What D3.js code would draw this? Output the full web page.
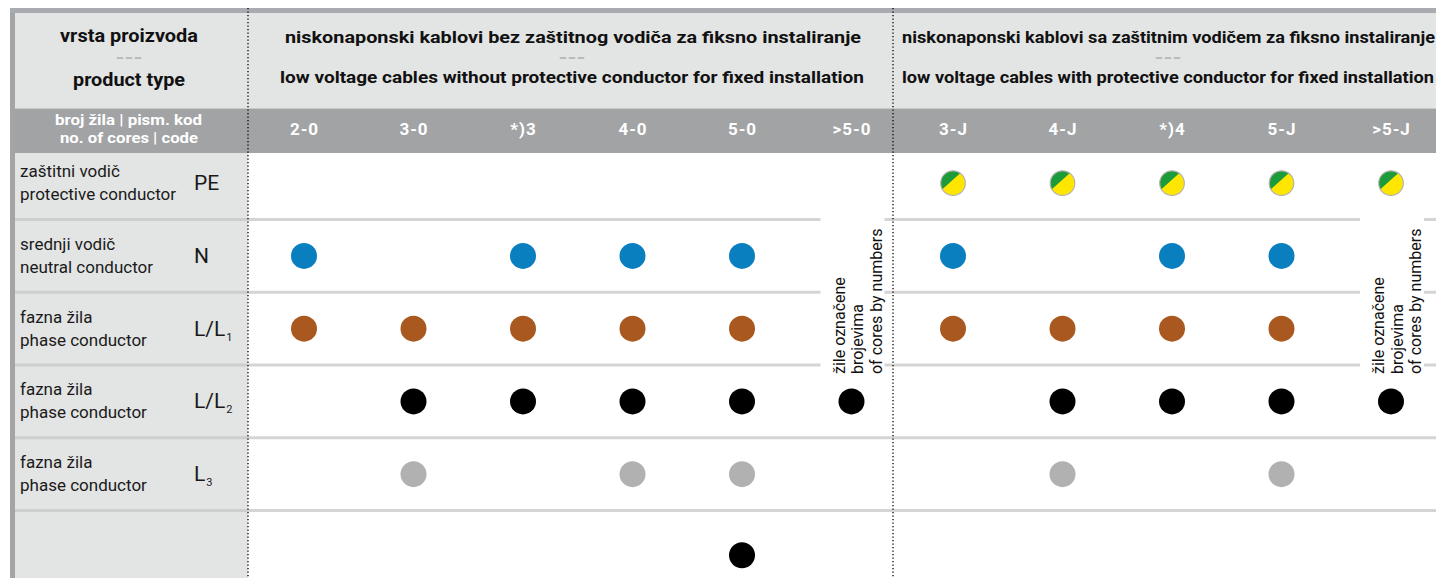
<!DOCTYPE html>
<html><head><meta charset="utf-8">
<script src="https://cdn.jsdelivr.net/npm/d3@7"></script>
<style>body{margin:0;background:#fff;overflow:hidden}svg{display:block}text{font-family:Roboto,"Open Sans",sans-serif}</style>
</head><body><svg id="c" width="1436" height="578"></svg>
<script>
// ---------- data ----------
const headerHR = "vrsta proizvoda";
const headerEN = "product type";
const codeHeaderHR = "broj žila | pism. kod";
const codeHeaderEN = "no. of cores | code";
const groupTitlesHR = ["niskonaponski kablovi bez zaštitnog vodiča za fiksno instaliranje",
                       "niskonaponski kablovi sa zaštitnim vodičem za fiksno instaliranje"];
const groupTitlesEN = ["low voltage cables without protective conductor for fixed installation",
                       "low voltage cables with protective conductor for fixed installation"];
const groupCodesA = ["2-0","3-0","*)3","4-0","5-0",">5-0"];
const groupCodesB = ["3-J","4-J","*)4","5-J",">5-J"];
const rowKeys = ["PE","N","L1","L2","L3","X"];
const rowLabelHR = ["zaštitni vodič","srednji vodič","fazna žila","fazna žila","fazna žila",""];
const rowLabelEN = ["protective conductor","neutral conductor","phase conductor","phase conductor","phase conductor",""];
const rowSymbol = ["PE","N","L/L","L/L","L",""];
const rowSymbolSub = ["","","1","2","3",""];
const rowColor = ["pe","#0a7fc0","#a9591f","#000000","#b1b1b1","#000000"];
const coresPE = ["3-J","4-J","*)4","5-J",">5-J"];
const coresN  = ["2-0","*)3","4-0","5-0","3-J","*)4","5-J"];
const coresL1 = ["2-0","3-0","*)3","4-0","5-0","3-J","4-J","*)4","5-J"];
const coresL2 = ["3-0","*)3","4-0","5-0",">5-0","4-J","*)4","5-J",">5-J"];
const coresL3 = ["3-0","4-0","5-0","4-J","5-J"];
const coresX  = ["5-0"];
const rowCores = [coresPE, coresN, coresL1, coresL2, coresL3, coresX];
const numberedCodes = [">5-0", ">5-J"];
const numberedNote = ["žile označene","brojevima","of cores by numbers"];

// ---------- layout ----------
const W = 1436, H = 578;
const svg = d3.select("#c");
const xA = d3.scalePoint().domain(groupCodesA).range([304, 851.5]);
const xB = d3.scalePoint().domain(groupCodesB).range([953, 1391]);
const xCol = c => groupCodesA.includes(c) ? xA(c) : xB(c);
const yB = d3.scaleBand().domain(rowKeys.slice(0,5)).range([146.75, 510.5]);
const lastKey = rowKeys[rowKeys.length-1];
const rowTop = k => k === lastKey ? 510.5 : yB(k);
const rowBot = k => k === lastKey ? 600 : yB(k) + yB.bandwidth();
const rowMid = k => (rowTop(k) + rowBot(k)) / 2;
const divX = [248, 893];
const noteBottom = rowBot("L1") + 9;

// backgrounds
svg.append("rect").attr("x",10).attr("y",8).attr("width",W-10).attr("height",5).attr("fill","#a8acb1");
svg.append("rect").attr("x",10).attr("y",13).attr("width",W-10).attr("height",95).attr("fill","#e3e4e4");
svg.append("rect").attr("x",10).attr("y",108).attr("width",W-10).attr("height",1).attr("fill","#c9cacb");
svg.append("rect").attr("x",10).attr("y",109).attr("width",W-10).attr("height",44).attr("fill","#a2a3a5");
svg.append("rect").attr("x",10).attr("y",153).attr("width",divX[0]-10).attr("height",H-153).attr("fill","#e3e4e4");
svg.append("rect").attr("x",10).attr("y",13).attr("width",5).attr("height",H-13).attr("fill","#a4a5a7");

// separators
rowKeys.slice(0,5).forEach(k => {
  const y = rowBot(k);
  svg.append("line").attr("x1",15).attr("x2",divX[0]).attr("y1",y).attr("y2",y)
     .attr("stroke","#cdcecf").attr("stroke-width",3);
  let segs = [[divX[0], W]];
  if (y < noteBottom) {
    numberedCodes.forEach(c => {
      const g0 = xCol(c) - 31, g1 = xCol(c) + 33;
      segs = segs.flatMap(([a,b]) => (g1 <= a || g0 >= b) ? [[a,b]] : [[a,g0],[g1,b]].filter(s=>s[1]>s[0]));
    });
  }
  segs.forEach(([a,b]) => svg.append("line").attr("x1",a).attr("x2",b).attr("y1",y).attr("y2",y)
     .attr("stroke","#d5d5d5").attr("stroke-width",3));
});

// dotted dividers
divX.forEach(x => svg.append("line").attr("x1",x).attr("x2",x).attr("y1",8).attr("y2",H)
  .attr("stroke","#000").attr("stroke-width",1.3).attr("stroke-dasharray","1.3,2.2"));

// header texts
const T = (x,y,txt,o) => {
  const t = svg.append("text").attr("x",x).attr("y",y).text(txt)
    .attr("font-size",o.size).attr("font-weight",o.weight||400).attr("fill",o.fill||"#111")
    .attr("text-anchor",o.anchor||"middle");
  if (o.len) t.attr("textLength",o.len).attr("lengthAdjust","spacingAndGlyphs");
  if (o.ls) t.attr("letter-spacing",o.ls);
  return t;
};
T(129,42,headerHR,{size:18,weight:700,len:138});
T(129,63,"---",{size:16,weight:700,fill:"#b8b8b8",len:27});
T(129,86,headerEN,{size:18,weight:700,len:112});
T(128.5,125,codeHeaderHR,{size:15,weight:700,fill:"#fff",len:147});
T(129,143,codeHeaderEN,{size:15,weight:700,fill:"#fff",len:138});

T(573,43,groupTitlesHR[0],{size:17,weight:700,len:576});
T(572,63,"---",{size:16,weight:700,fill:"#b8b8b8",len:27});
T(572,83,groupTitlesEN[0],{size:17,weight:700,len:584});
T(902,43,groupTitlesHR[1],{size:17,weight:700,anchor:"start",len:533});
T(1168,63,"---",{size:16,weight:700,fill:"#b8b8b8",len:27});
T(902,83,groupTitlesEN[1],{size:17,weight:700,anchor:"start",len:532});

// column codes
groupCodesA.concat(groupCodesB).forEach(c => T(xCol(c)+0.5,135,c,{size:17,weight:700,fill:"#fff",ls:1}));

// row labels
rowKeys.forEach((k,i) => {
  const m = rowMid(k);
  if (rowLabelHR[i]) T(20,m-6,rowLabelHR[i],{size:17,anchor:"start",fill:"#1a1a1a"});
  if (rowLabelEN[i]) T(20,m+17,rowLabelEN[i],{size:17,anchor:"start",fill:"#1a1a1a"});
  if (rowSymbol[i]) {
    const t = T(194,m+7,rowSymbol[i],{size:21,anchor:"start",fill:"#1a1a1a"});
    if (rowSymbolSub[i]) t.append("tspan").attr("dy",5).attr("dx",1).attr("font-size",11).text(rowSymbolSub[i]);
  }
});

// numbered-core notes
numberedCodes.forEach(c => {
  const g = svg.append("g").attr("transform",`translate(${xCol(c)},${noteBottom}) rotate(-90)`);
  const offs = [-7, 11.5, 30];
  numberedNote.forEach((s,j) => g.append("text").attr("x",0).attr("y",offs[j]).text(s)
    .attr("font-size",16).attr("fill","#111"));
});

// markers
const markers = rowKeys.flatMap((k,i) => rowCores[i].map(c => ({row:k, code:c, color:rowColor[i]})));
const R = 13;
markers.forEach(d => {
  const cx = xCol(d.code), cy = rowMid(d.row);
  if (d.color === "pe") {
    const g = svg.append("g").attr("transform",`translate(${cx},${cy})`);
    const r = 12.3, phi = -132 * Math.PI/180, th = Math.acos(2.6/r);
    const a1 = phi - th, a2 = phi + th;
    g.append("circle").attr("r",r).attr("fill","#ffe600");
    g.append("path").attr("d",`M${r*Math.cos(a1)},${r*Math.sin(a1)}A${r},${r} 0 0 1 ${r*Math.cos(a2)},${r*Math.sin(a2)}Z`)
      .attr("fill","#1d9a3a");
    g.append("circle").attr("r",r).attr("fill","none").attr("stroke","#b3b3b3").attr("stroke-width",1.2);
  } else {
    svg.append("circle").attr("cx",cx).attr("cy",cy).attr("r",R).attr("fill",d.color);
  }
});
</script></body></html>
